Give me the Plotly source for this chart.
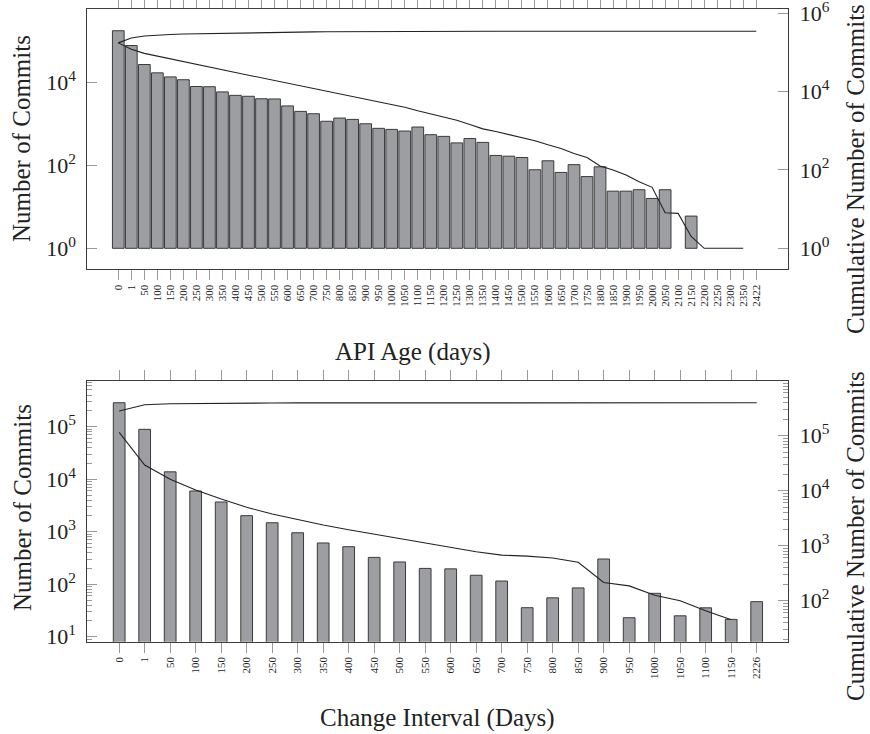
import plotly.graph_objects as go

# ---------------- data: top chart (API Age) ----------------
age_cats = ["0", "1", "50", "100", "150", "200", "250", "300", "350", "400",
            "450", "500", "550", "600", "650", "700", "750", "800", "850", "900",
            "950", "1000", "1050", "1100", "1150", "1200", "1250", "1300", "1350", "1400",
            "1450", "1500", "1550", "1600", "1650", "1700", "1750", "1800", "1850", "1900",
            "1950", "2000", "2050", "2100", "2150", "2200", "2250", "2300", "2350", "2422"]
age_commits = [180000, 79000, 27500, 17300, 13800, 11800, 8100, 8000, 6000, 4950,
               4700, 4100, 4050, 2750, 2030, 1780, 1170, 1400, 1300, 1020,
               790, 745, 680, 850, 555, 505, 352, 448, 362, 175,
               168, 156, 79, 130, 68, 105, 54, 93, 24, 24,
               26, 16, 26, None, 6, None, None, None, None, None]
age_cum_up = [175800, 234000, 263000, 280000, 288000, 295000, 300000, 305000, 310000, 314000,
              318000, 322000, 326000, 329000, 332000, 335000, 337000, 339000, 341000, 343000,
              344000, 345000, 346000, 347000, 349000, 349000, 349000, 349000, 349000, 349000,
              349000, 349000, 349000, 349000, 349000, 349000, 349000, 349000, 349000, 349000,
              349000, 349000, 349000, 349000, 349000, 349000, 349000, 349000, 349000, 349000]
age_cum_down = [175800, 120000, 94800, 81300, 69200, 58900, 50100, 42700, 36300, 30900,
                26300, 22400, 19100, 16600, 14100, 12000, 10200, 8700, 7400, 6300,
                5400, 4600, 4000, 3240, 2700, 2190, 1860, 1450, 1120, 955,
                810, 660, 560, 440, 355, 263, 209, 126, 100, 74,
                50, 36, 8.1, 7.8, 2, 1, 1, 1, 1, None]

# ---------------- data: bottom chart (Change Interval) ----------------
int_cats = ["0", "1", "50", "100", "150", "200", "250", "300", "350", "400",
            "450", "500", "550", "600", "650", "700", "750", "800", "850", "900",
            "950", "1000", "1050", "1100", "1150", "2226"]
int_commits = [286000, 89000, 13800, 5960, 3680, 2020, 1480, 955, 610, 518,
               324, 265, 200, 196, 148, 115, 35.7, 55, 85, 302,
               23, 67, 25, 35.5, 21.4, 46.5]
int_cum_up = [281000, 366000, 382000, 388000, 391000, 393000, 394000, 395000, 395000, 396000,
              396000, 396000, 397000, 397000, 397000, 397000, 397000, 397000, 398000, 398000,
              398000, 398000, 398000, 398000, 398000, 398000]
int_cum_down = [115000, 29300, 16100, 10300, 7060, 4990, 3770, 2970, 2380, 1950,
                1620, 1350, 1120, 908, 776, 676, 646, 598, 501, 214,
                186, 126, 100, 66, 45, None]

FONT = "Liberation Serif"
BAR_FILL = "#9d9ea2"
BAR_LINE = "#3a3a3a"
FRAME = "#3c3c3c"
TICK = "#9a9a9a"

fig = go.Figure()

# top chart bars start at 10^0: bar spans base..base+y
fig.add_trace(go.Bar(x=age_cats, y=[None if v is None else v - 1 for v in age_commits],
                     base=1, marker=dict(color=BAR_FILL, line=dict(color=BAR_LINE, width=1)),
                     xaxis="x", yaxis="y", showlegend=False))
fig.add_trace(go.Scatter(x=age_cats, y=age_cum_up, mode="lines", line=dict(color="#222", width=1.1),
                         xaxis="x", yaxis="y2", showlegend=False))
fig.add_trace(go.Scatter(x=age_cats, y=age_cum_down, mode="lines", line=dict(color="#222", width=1.1),
                         xaxis="x", yaxis="y2", showlegend=False))

fig.add_trace(go.Bar(x=int_cats, y=int_commits, width=0.46,
                     marker=dict(color=BAR_FILL, line=dict(color=BAR_LINE, width=1)),
                     xaxis="x2", yaxis="y3", showlegend=False))
fig.add_trace(go.Scatter(x=int_cats, y=int_cum_up, mode="lines", line=dict(color="#222", width=1.1),
                         xaxis="x2", yaxis="y4", showlegend=False))
fig.add_trace(go.Scatter(x=int_cats, y=int_cum_down, mode="lines", line=dict(color="#222", width=1.1),
                         xaxis="x2", yaxis="y4", showlegend=False))

XDOM = [87.3 / 870, 788.3 / 870]
TOPDOM = [1 - 269.3 / 734, 1 - 9.3 / 734]
BOTDOM = [1 - 641.7 / 734, 1 - 381 / 734]


def sup(n):
    return "10<sup>%d</sup>" % n


def minor_vals(lo, hi):
    vals = []
    for e in range(lo, hi + 1):
        for m in range(2, 10):
            vals.append(m * 10 ** e)
    return vals


xcommon = dict(type="category", showline=True, linecolor=FRAME, linewidth=1, mirror="allticks",
               ticks="outside", ticklen=10, tickcolor=TICK, tickwidth=1, tickangle=-90,
               tickfont=dict(family=FONT, size=11, color="#222"), showgrid=False, zeroline=False,
               tickmode="array", automargin=False, ticklabeloverflow="allow")
ycommon = dict(type="log", showline=True, linecolor=FRAME, linewidth=1, ticks="inside",
               ticklen=10, tickcolor=TICK, tickwidth=1, showgrid=False, zeroline=False,
               tickfont=dict(family=FONT, size=22, color="#222"), tickmode="array",
               ticklabelstandoff=6, automargin=False, ticklabeloverflow="allow")

fig.update_layout(
    width=870, height=734, margin=dict(l=0, r=0, t=0, b=0, autoexpand=False),
    paper_bgcolor="white", plot_bgcolor="white", barmode="overlay", bargap=0.1,
    font=dict(family=FONT, color="#222"), hovermode=False,
    xaxis=dict(xcommon, domain=XDOM, anchor="y", range=[-2.38, 51.46],
               tickvals=age_cats, ticktext=age_cats),
    yaxis=dict(ycommon, domain=TOPDOM, anchor="x", range=[-0.507, 5.773],
               tickvals=[1, 100, 10000], ticktext=[sup(0), sup(2), sup(4)]),
    yaxis2=dict(ycommon, domain=TOPDOM, anchor="x", overlaying="y", side="right",
                range=[-0.536, 6.102],
                tickvals=[1, 100, 10000, 1000000], ticktext=[sup(0), sup(2), sup(4), sup(6)]),
    xaxis2=dict(xcommon, domain=XDOM, anchor="y3", range=[-1.25, 26.24],
                tickvals=int_cats, ticktext=int_cats),
    yaxis3=dict(ycommon, domain=BOTDOM, anchor="x2", range=[0.905, 5.870],
                tickvals=[10, 100, 1000, 10000, 100000],
                ticktext=[sup(1), sup(2), sup(3), sup(4), sup(5)],
                minor=dict(tickmode="array", tickvals=minor_vals(0, 5), ticks="inside",
                           ticklen=5, tickcolor=TICK, tickwidth=1, showgrid=False)),
    yaxis4=dict(ycommon, domain=BOTDOM, anchor="x2", overlaying="y3", side="right",
                range=[1.255, 5.995],
                tickvals=[100, 1000, 10000, 100000],
                ticktext=[sup(2), sup(3), sup(4), sup(5)],
                minor=dict(tickmode="array", tickvals=minor_vals(1, 5), ticks="inside",
                           ticklen=5, tickcolor=TICK, tickwidth=1, showgrid=False)),
)

ann = dict(xref="paper", yref="paper", showarrow=False, xanchor="center", yanchor="middle",
           font=dict(family=FONT, size=25, color="#222"))
fig.add_annotation(ann, text="Number of Commits", x=22 / 870, y=1 - 139 / 734, textangle=-90)
fig.add_annotation(ann, text="Number of Commits", x=22 / 870, y=1 - 508 / 734, textangle=-90)
fig.add_annotation(ann, text="Cumulative Number of Commits", x=855 / 870, y=1 - 169 / 734, textangle=-90)
fig.add_annotation(ann, text="Cumulative Number of Commits", x=855 / 870, y=1 - 536 / 734, textangle=-90)
fig.add_annotation(ann, text="API Age (days)", x=413 / 870, y=1 - 352 / 734)
fig.add_annotation(ann, text="Change Interval (Days)", x=437 / 870, y=1 - 718 / 734)

fig.write_html("out.html", config={"displayModeBar": False, "staticPlot": True},
               post_script="document.body.style.margin='0';document.body.style.overflow='hidden';")
